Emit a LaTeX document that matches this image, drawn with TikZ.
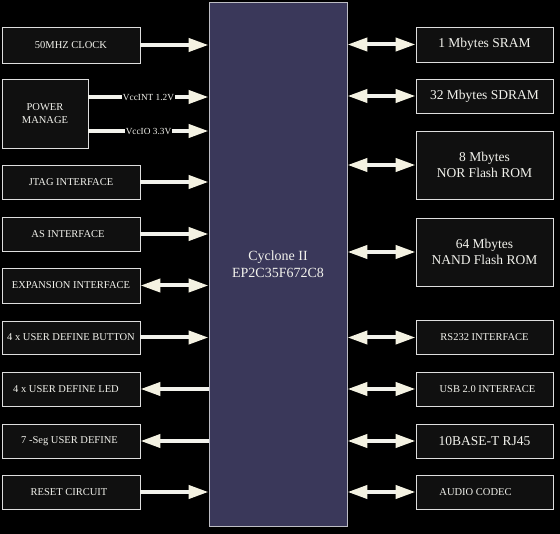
\documentclass[tikz,border=0pt]{standalone}
\usepackage{fontspec}
\setmainfont{Liberation Serif}
\usetikzlibrary{arrows.meta}
\definecolor{chip}{RGB}{58,56,90}
\definecolor{boxfill}{RGB}{16,16,16}
\definecolor{edge}{RGB}{222,222,222}
\definecolor{txt}{RGB}{242,242,236}
\definecolor{head}{RGB}{244,242,226}
\tikzset{
  lbox/.style={draw=edge, line width=0.9pt, fill=boxfill, text=txt, minimum width=138pt, minimum height=34pt, inner sep=0pt, font=\fontsize{10.5}{12.5}\selectfont, align=center},
  rbox/.style={lbox, minimum width=137pt},
  bigtxt/.style={font=\fontsize{13.5}{16}\selectfont},
  arr/.style={draw=txt, line width=4pt, -{Triangle[length=20pt,width=13pt,fill=head,color=head]}},
  darr/.style={draw=txt, line width=4pt, {Triangle[length=20pt,width=13pt,fill=head,color=head]}-{Triangle[length=20pt,width=13pt,fill=head,color=head]}},
  vlab/.style={fill=black, text=txt, inner sep=1pt, font=\fontsize{9.3}{10}\selectfont}
}
\begin{document}
\begin{tikzpicture}[x=1pt,y=-1pt]
\fill[black] (0,0) rectangle (560,534);
\useasboundingbox (0,0) rectangle (560,534);
% central chip
\node[draw=edge!80!chip, line width=0.9pt, fill=chip, minimum width=138pt, minimum height=524pt, inner sep=0pt, text=txt, align=center, font=\fontsize{14}{17}\selectfont] (fpga) at (278,264) {Cyclone II\\EP2C35F672C8};
% left boxes
\node[lbox, minimum height=36pt] (clk) at (71,45) {50MHZ CLOCK};
\node[lbox, minimum width=86pt, minimum height=69pt] (pwr) at (45,113.5) {POWER\\MANAGE};
\node[lbox] (jtag) at (71,182) {JTAG INTERFACE};
\node[lbox] (as) at (71,234) {AS INTERFACE\hspace{6pt}};
\node[lbox, minimum height=35pt] (exp) at (71,285.5) {EXPANSION INTERFACE};
\node[lbox, minimum height=33pt] (btn) at (71,337.5) {4 x USER DEFINE BUTTON};
\node[lbox] (led) at (71,389) {4 x USER DEFINE LED\hspace{10pt}};
\node[lbox] (seg) at (71,441) {7 -Seg USER DEFINE\hspace{3pt}};
\node[lbox] (rst) at (71,492) {RESET CIRCUIT\hspace{4pt}};
% right boxes
\node[rbox, bigtxt, minimum height=35pt] (sram) at (484.5,44.5) {1 Mbytes SRAM};
\node[rbox, bigtxt] (sdram) at (484.5,96) {32 Mbytes SDRAM};
\node[rbox, bigtxt, minimum height=68pt] (nor) at (484.5,165) {8 Mbytes\\NOR Flash ROM};
\node[rbox, bigtxt, minimum height=68pt] (nand) at (484.5,252) {64 Mbytes\\NAND Flash ROM};
\node[rbox] (rs) at (484.5,337.5) {RS232 INTERFACE};
\node[rbox] (usb) at (484.5,389) {\hspace{6pt}USB 2.0 INTERFACE};
\node[rbox, bigtxt] (eth) at (484.5,441) {10BASE-T RJ45};
\node[rbox] (aud) at (484.5,492) {AUDIO CODEC\hspace{18pt}};
% left connectors
\draw[arr] (clk.east) -- (clk.east -| fpga.west);
\coordinate (v1) at (pwr.east |- 0,97);
\coordinate (v2) at (pwr.east |- 0,131);
\draw[arr] (v1) -- (v1 -| fpga.west) node[vlab, midway] (vl1) {VccINT 1.2V};
\draw[arr] (v2) -- (v2 -| fpga.west) node[vlab, midway] (vl2) {VccIO 3.3V};
\draw[arr] (jtag.east) -- (jtag.east -| fpga.west);
\draw[arr] (as.east) -- (as.east -| fpga.west);
\draw[darr] (exp.east) -- (exp.east -| fpga.west);
\draw[arr] (btn.east) -- (btn.east -| fpga.west);
\draw[arr] (led.east -| fpga.west) -- (led.east);
\draw[arr] (seg.east -| fpga.west) -- (seg.east);
\draw[arr] (rst.east) -- (rst.east -| fpga.west);
% right connectors
\foreach \n in {sram,sdram,nor,nand,rs,usb,eth,aud}
  \draw[darr] (\n.west -| fpga.east) -- (\n.west);
\end{tikzpicture}
\end{document}
